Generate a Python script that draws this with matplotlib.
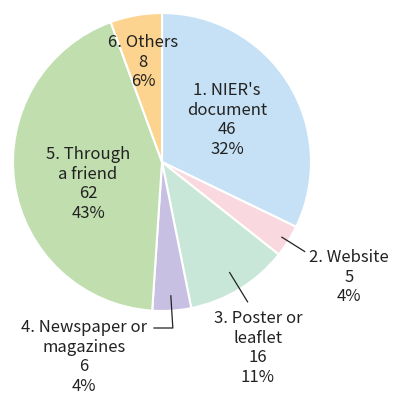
import numpy as np
import matplotlib.pyplot as plt

plt.rcParams['font.family'] = ['Noto Sans CJK JP', 'DejaVu Sans']

labels = ["1. NIER's\ndocument", "2. Website", "3. Poster or\nleaflet",
          "4. Newspaper or\nmagazines", "5. Through\na friend", "6. Others"]
counts = [46, 5, 16, 6, 62, 8]
percents = ["32%", "4%", "11%", "4%", "43%", "6%"]
colors = ['#c6e1f5', '#fad8e0', '#c9e7d9', '#c8c0e2', '#c0deae', '#fdd48f']

W, H = 395, 394
cx, cy, R = 162, H - 162, 149

fig = plt.figure(figsize=(W / 100, H / 100), dpi=100)
ax = fig.add_axes([0, 0, 1, 1])

wedges, _ = ax.pie(counts, colors=colors, startangle=90, counterclock=False,
                   center=(cx, cy), radius=R,
                   wedgeprops=dict(edgecolor='white', linewidth=1.5))

# pie() sets its own limits, so use pixel coords afterwards
ax.set_xlim(0, W)
ax.set_ylim(0, H)
ax.set_aspect('equal')
ax.axis('off')

# label centres in pixel coords (from top-left)
label_pos = [(227, 120), (349, 277), (258, 348), (84, 357), (88, 184), (143, 62)]
for lab, n, p, (x, y) in zip(labels, counts, percents, label_pos):
    ax.text(x, H - y, f"{lab}\n{n}\n{p}", ha='center', va='center',
            fontsize=12, linespacing=1.2, color='#222222')

# leader lines for the small slices
total = sum(counts)
cum = np.cumsum([0] + counts)
mid = [(cum[i] + cum[i + 1]) / 2 / total * 2 * np.pi for i in range(len(counts))]


def polar(a, r):
    return cx + r * np.sin(a), cy + r * np.cos(a)


for i, (r0, r1) in [(1, (0.95, 1.13)), (2, (0.87, 1.1))]:
    x0, y0 = polar(mid[i], r0 * R)
    x1, y1 = polar(mid[i], r1 * R)
    ax.plot([x0, x1], [y0, y1], color='#222222', lw=0.9)

x0, y0 = polar(mid[3], 0.9 * R)
ax.plot([x0, x0 + 2, 154], [y0, H - 328, H - 328], color='#222222', lw=0.9)

fig.savefig('out.png', dpi=100)
